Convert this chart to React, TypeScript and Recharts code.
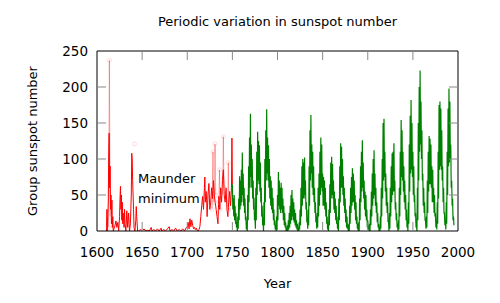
import React from "react";
import { LineChart, Line, XAxis, YAxis, ReferenceLine } from "recharts";

const FONT = "DejaVu Sans, sans-serif";
const PLOT = { left: 97, top: 51, right: 458, bottom: 231 };
const TICK_LEN = 9;

const xTicks = [1600, 1650, 1700, 1750, 1800, 1850, 1900, 1950, 2000];
const yTicks = [0, 50, 100, 150, 200, 250];

// green: group sunspot numbers, two readings per year, per decade
const green1750 = [65, 30, 45, 20, 50, 15, 35, 10, 25, 5, 12, 0, 20, 3, 45, 15, 76, 30, 70, 35];
const green1760 = [85, 40, 109, 50, 80, 35, 60, 25, 45, 15, 20, 2, 12, 0, 50, 15, 90, 40, 130, 60];
const green1770 = [163, 75, 120, 60, 100, 45, 70, 30, 46, 15, 20, 3, 60, 15, 110, 50, 138, 70, 125, 65];
const green1780 = [119, 55, 95, 40, 60, 20, 35, 8, 15, 0, 40, 8, 100, 40, 140, 70, 169, 80, 130, 70];
const green1790 = [119, 60, 100, 45, 76, 35, 70, 30, 60, 25, 46, 15, 30, 8, 15, 2, 8, 0, 20, 2];
const green1800 = [50, 15, 82, 35, 70, 30, 60, 25, 67, 30, 60, 25, 45, 15, 35, 8, 25, 5, 12, 0];
const green1810 = [5, 0, 8, 0, 15, 2, 25, 5, 35, 10, 50, 15, 57, 20, 45, 15, 40, 12, 30, 8];
const green1820 = [25, 5, 15, 2, 10, 0, 5, 0, 12, 2, 30, 8, 60, 20, 90, 35, 100, 45, 95, 45];
const green1830 = [102, 50, 70, 30, 40, 12, 15, 3, 30, 8, 90, 35, 140, 70, 161, 80, 120, 60, 110, 50];
const green1840 = [90, 40, 60, 25, 40, 12, 20, 3, 25, 5, 60, 20, 80, 35, 110, 50, 130, 60, 120, 55];
const green1850 = [80, 35, 75, 35, 70, 30, 60, 20, 40, 10, 20, 2, 10, 0, 30, 8, 65, 25, 95, 45];
const green1860 = [103, 50, 93, 45, 70, 30, 55, 25, 45, 15, 35, 10, 20, 3, 10, 0, 45, 15, 90, 40];
const green1870 = [122, 60, 117, 60, 100, 50, 76, 35, 60, 25, 45, 12, 30, 5, 20, 3, 8, 0, 10, 0];
const green1880 = [35, 10, 60, 25, 75, 35, 87, 40, 80, 40, 70, 30, 50, 15, 40, 10, 20, 3, 10, 0];
const green1890 = [12, 0, 45, 15, 90, 40, 110, 55, 126, 60, 95, 45, 70, 30, 55, 20, 50, 15, 30, 5];
const green1900 = [15, 2, 8, 0, 10, 0, 30, 8, 55, 20, 80, 35, 100, 45, 112, 50, 80, 35, 60, 25];
const green1910 = [40, 12, 25, 5, 10, 0, 6, 0, 20, 3, 60, 20, 100, 45, 150, 70, 156, 75, 110, 55];
const green1920 = [80, 35, 60, 25, 40, 12, 15, 0, 25, 3, 60, 20, 90, 40, 108, 50, 110, 55, 122, 55];
const green1930 = [70, 30, 40, 15, 25, 5, 10, 0, 15, 2, 60, 20, 110, 50, 154, 75, 140, 70, 110, 55];
const green1940 = [90, 40, 70, 30, 50, 15, 30, 5, 12, 0, 40, 10, 120, 55, 160, 80, 182, 85, 150, 75];
const green1950 = [110, 50, 90, 40, 50, 20, 25, 5, 8, 0, 60, 15, 150, 70, 200, 110, 223, 120, 180, 100];
const green1960 = [140, 70, 80, 35, 60, 25, 40, 15, 15, 3, 20, 5, 70, 25, 110, 55, 132, 65, 128, 65];
const green1970 = [120, 60, 90, 40, 85, 40, 60, 25, 50, 20, 25, 5, 15, 2, 40, 10, 110, 45, 175, 85];
const green1980 = [180, 90, 170, 85, 140, 70, 90, 40, 60, 25, 25, 8, 15, 2, 40, 10, 110, 50, 170, 90];
const green1990 = [198, 95, 180, 100, 120, 60, 70, 35, 45, 15, 20, 8];

// red: sparse early telescope records [year, value]
const redEarly = [
  [1610.5, 0], [1611, 30], [1611.5, 0], [1612.5, 40], [1613, 110], [1613.5, 136], [1614, 60],
  [1614.5, 90], [1615, 30], [1615.5, 50], [1616, 10], [1616.5, 43], [1617, 5], [1617.5, 20],
  [1618, 0], [1620, 8], [1621, 14], [1622, 5], [1623, 12], [1624, 0], [1625, 20], [1625.5, 45],
  [1626, 62], [1626.5, 30], [1627, 50], [1627.5, 15], [1628, 40], [1628.5, 10], [1629, 25],
  [1630, 5], [1630.5, 30], [1631, 10], [1632, 0], [1633, 28], [1634, 5], [1635, 25], [1636, 0],
  [1637, 10], [1638, 50], [1638.5, 108], [1639, 100], [1639.5, 70], [1640, 50], [1640.5, 30],
  [1641, 5], [1642, 0], [1643, 15], [1643.5, 34], [1644, 20], [1645, 0],
];
const redMaunder = [
  [1646, 0], [1648, 2], [1650, 0], [1652, 3], [1654, 0], [1656, 1], [1658, 0], [1660, 5],
  [1661, 0], [1663, 2], [1665, 0], [1667, 3], [1669, 0], [1671, 4], [1672, 0], [1674, 2],
  [1676, 0], [1678, 3], [1680, 6], [1681, 0], [1683, 2], [1685, 0], [1687, 4], [1689, 0],
  [1691, 2], [1693, 0], [1695, 3], [1697, 0], [1699, 5], [1700, 5], [1701, 12], [1702, 3],
  [1703, 17], [1704, 6], [1705, 15], [1706, 8], [1707, 3], [1708, 5], [1709, 2], [1710, 4],
  [1711, 1], [1712, 0], [1713, 2], [1714, 6],
];
const redLate = [
  [1715, 20], [1716, 35], [1717, 48], [1718, 30], [1719, 60], [1719.5, 75], [1720, 40],
  [1721, 55], [1721.5, 43], [1722, 20], [1723, 50], [1724, 66], [1725, 30], [1726, 40],
  [1727, 60], [1728, 45], [1729, 70], [1730, 50], [1731, 40], [1732, 30], [1733, 20],
  [1734, 10], [1735, 48], [1736, 30], [1737, 60], [1738, 40], [1739, 70], [1740, 85],
  [1741, 50], [1742, 40], [1743, 60], [1744, 30], [1745, 20], [1746, 40], [1747, 55],
  [1748, 35], [1749, 60], [1749.5, 129], [1750, 65],
];
// faint isolated readings (null breaks the line)
const redFaint = [
  [1612.8, 5], [1613.7, 237], [1614.6, 20], [1615, null],
  [1641.5, 121], [1642, null],
  [1727.5, 30], [1728.5, 110], [1729, 40], [1729.5, null],
  [1730, 40], [1730.8, 121], [1731.5, 50], [1732, null],
  [1735, 40], [1735.7, 85], [1736.3, 30], [1736.5, null],
  [1739.2, 50], [1740, 131], [1740.7, 60], [1741, null],
  [1745, 30], [1745.5, 95], [1746, 30],
];

const fromHalfYears = (start: number, values: number[]) =>
  values.map((v, i) => ({ year: start + i * 0.5, value: v }));
const fromPairs = (pairs: (number | null)[][]) =>
  pairs.map(([year, value]) => ({ year, value }));

const greenData = [
  [1750, green1750], [1760, green1760], [1770, green1770], [1780, green1780],
  [1790, green1790], [1800, green1800], [1810, green1810], [1820, green1820],
  [1830, green1830], [1840, green1840], [1850, green1850], [1860, green1860],
  [1870, green1870], [1880, green1880], [1890, green1890], [1900, green1900],
  [1910, green1910], [1920, green1920], [1930, green1930], [1940, green1940],
  [1950, green1950], [1960, green1960], [1970, green1970], [1980, green1980],
  [1990, green1990],
].flatMap(([start, vals]) => fromHalfYears(start as number, vals as number[]));

const redData = fromPairs([...redEarly, ...redMaunder, ...redLate]);
const faintData = fromPairs(redFaint);

const plotW = PLOT.right - PLOT.left;
const plotH = PLOT.bottom - PLOT.top;

const XTick = (props: any) => {
  const { x, y, payload } = props;
  const edge = payload.value === 1600 || payload.value === 2000;
  return (
    <g>
      {!edge && <line x1={x} y1={y} x2={x} y2={y - TICK_LEN} stroke="#888" />}
      {!edge && <line x1={x} y1={y - plotH} x2={x} y2={y - plotH + TICK_LEN} stroke="#888" />}
      <text x={x} y={y + 26} textAnchor="middle" fontSize={13.5} fontFamily={FONT} fill="#000">
        {payload.value}
      </text>
    </g>
  );
};

const YTick = (props: any) => {
  const { x, y, payload } = props;
  const edge = payload.value === 0 || payload.value === 250;
  return (
    <g>
      {!edge && <line x1={x} y1={y} x2={x + TICK_LEN} y2={y} stroke="#888" />}
      {!edge && <line x1={x + plotW} y1={y} x2={x + plotW - TICK_LEN} y2={y} stroke="#888" />}
      <text x={x - 9} y={y + 5} textAnchor="end" fontSize={13.5} fontFamily={FONT} fill="#000">
        {payload.value}
      </text>
    </g>
  );
};

export default function App() {
  return (
    <div>
      <style>{`body{margin:0}`}</style>
      <LineChart
        width={500}
        height={303}
        margin={{ top: PLOT.top, right: 500 - PLOT.right, bottom: 303 - PLOT.bottom - 30, left: PLOT.left - 60 }}
      >
        <XAxis
          dataKey="year"
          type="number"
          domain={[1600, 2000]}
          ticks={xTicks}
          height={30}
          tickSize={0}
          tickMargin={0}
          tick={<XTick />}
          tickLine={false}
          axisLine={{ stroke: "#000" }}
          allowDataOverflow
        />
        <YAxis
          type="number"
          domain={[0, 250]}
          ticks={yTicks}
          width={60}
          tickSize={0}
          tickMargin={0}
          tick={<YTick />}
          tickLine={false}
          axisLine={{ stroke: "#000" }}
          allowDataOverflow
        />
        <Line
          data={faintData}
          dataKey="value"
          stroke="#ff0000"
          strokeOpacity={0.35}
          strokeWidth={1}
          dot={{ r: 2, stroke: "#ff8080", strokeWidth: 0.8, fill: "none" }}
          connectNulls={false}
          isAnimationActive={false}
        />
        <Line
          data={redData}
          dataKey="value"
          stroke="#ff0000"
          strokeWidth={1}
          dot={false}
          isAnimationActive={false}
        />
        <Line
          data={greenData}
          dataKey="value"
          stroke="#008000"
          strokeWidth={1.2}
          dot={false}
          isAnimationActive={false}
        />
        <ReferenceLine y={250} stroke="#000" />
        <ReferenceLine x={2000} stroke="#000" />
        <text x={(PLOT.left + PLOT.right) / 2} y={26} textAnchor="middle" fontSize={13} fontFamily={FONT} fill="#000">
          Periodic variation in sunspot number
        </text>
        <text x={(PLOT.left + PLOT.right) / 2} y={288} textAnchor="middle" fontSize={13} fontFamily={FONT} fill="#000">
          Year
        </text>
        <text
          x={32}
          y={141}
          transform="rotate(-90, 32, 141)"
          dy="0.35em"
          textAnchor="middle"
          fontSize={13}
          fontFamily={FONT}
          fill="#000"
        >
          Group sunspot number
        </text>
        <text x={138} y={183} fontSize={13} fontFamily={FONT} fill="#000">Maunder</text>
        <text x={138} y={203} fontSize={13} fontFamily={FONT} fill="#000">minimum</text>
      </LineChart>
    </div>
  );
}
